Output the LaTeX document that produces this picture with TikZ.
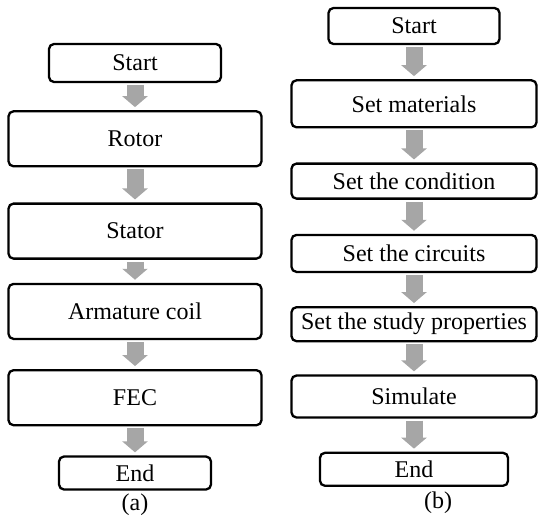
\documentclass[tikz,border=0pt]{standalone}
\usepackage{fontspec}
\setmainfont{Liberation Serif}
\usetikzlibrary{arrows.meta,positioning}
\definecolor{arrgray}{HTML}{A6A6A6}

\begin{document}
\begin{tikzpicture}[
  x=1pt, y=-1pt,
  font=\fontsize{24}{26}\selectfont, node distance=30pt,
  box/.style={draw, line width=2.3pt, rounded corners=5pt, align=center, inner sep=0pt},
  wide/.style={box, minimum width=253pt, minimum height=55pt},
  wideb/.style={box, minimum width=245pt},
  blk/.style={draw=arrgray, line width=17pt, -{Triangle[length=11pt, width=25pt]},
              shorten <=2pt, shorten >=3pt},
]
\useasboundingbox (0,0) rectangle (538,517);
% (a) model
\node[box, minimum width=172pt, minimum height=38pt] (startA) at (135,63) {Start};
\node[wide, below=27pt of startA] (rotor) {Rotor};
\node[wide, below=35pt of rotor] (stator) {Stator};
\node[wide, below=23pt of stator] (coil) {Armature coil};
\node[wide, below=29pt of coil] (fec) {FEC};
\node[box, minimum width=152pt, minimum height=33pt, below=29pt of fec] (endA) {End};
\node (capA) at (135,505) {(a)};
\draw[blk] (startA) -- (rotor);
\draw[blk] (rotor) -- (stator);
\draw[blk] (stator) -- (coil);
\draw[blk] (coil) -- (fec);
\draw[blk] (fec) -- (endA);
% (b) analysis
\node[box, minimum width=171pt, minimum height=36pt] (startB) at (414,26) {Start};
\node[wideb, minimum height=47pt, below=34pt of startB] (mat) {Set materials};
\node[wideb, minimum height=35pt, below=34pt of mat] (cond) {Set the condition};
\node[wideb, minimum height=37pt, below=34pt of cond] (circ) {Set the circuits};
\node[wideb, minimum height=34pt, below=33pt of circ] (study) {Set the study properties};
\node[wideb, minimum height=42pt, below=32pt of study] (sim) {Simulate};
\node[box, minimum width=188pt, minimum height=33pt, below=33pt of sim] (endB) {End};
\node (capB) at (438,503) {(b)};
\draw[blk] (startB) -- (mat);
\draw[blk] (mat) -- (cond);
\draw[blk] (cond) -- (circ);
\draw[blk] (circ) -- (study);
\draw[blk] (study) -- (sim);
\draw[blk] (sim) -- (endB);
\end{tikzpicture}
\end{document}
